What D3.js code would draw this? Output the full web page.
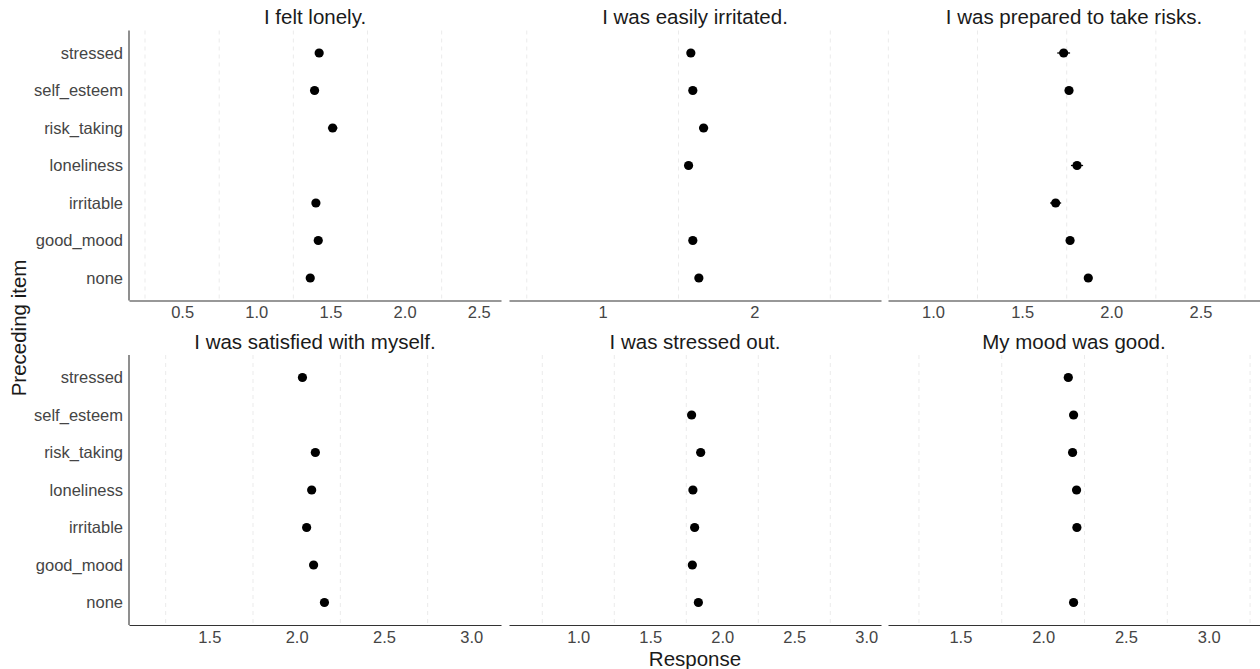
<!DOCTYPE html>
<html>
<head>
<meta charset="utf-8">
<script src="https://cdn.jsdelivr.net/npm/d3@7"></script>
<style>
  html, body { margin: 0; padding: 0; background: #fff; }
  svg text { font-family: "Liberation Sans", Arial, Helvetica, sans-serif; }
</style>
</head>
<body>
<svg id="chart" width="1260" height="669"></svg>
<script>
// Preceding items (y categories), top to bottom
const items = ["stressed", "self_esteem", "risk_taking", "loneliness", "irritable", "good_mood", "none"];

// Facet titles (target item), row-major
const titles = [
  "I felt lonely.", "I was easily irritated.", "I was prepared to take risks.",
  "I was satisfied with myself.", "I was stressed out.", "My mood was good."
];

// Mean response per preceding item (null = item not preceded by itself)
const lonelyMean     = [1.424, 1.393, 1.515, null, 1.402, 1.418, 1.364];
const irritatedMean  = [1.581, 1.594, 1.665, 1.566, null, 1.594, 1.634];
const risksMean      = [1.733, 1.763, null, 1.808, 1.688, 1.769, 1.871];
const satisfiedMean  = [2.033, null, 2.107, 2.086, 2.057, 2.097, 2.159];
const stressedMean   = [null, 1.787, 1.850, 1.796, 1.808, 1.792, 1.834];
const moodMean       = [2.152, 2.184, 2.178, 2.202, 2.204, null, 2.184];

// Standard errors for the horizontal error bars
const lonelySE     = [0.025, 0.025, 0.032, null, 0.025, 0.025, 0.025];
const irritatedSE  = [0.024, 0.024, 0.030, 0.024, null, 0.024, 0.024];
const risksSE      = [0.036, 0.022, null, 0.034, 0.031, 0.022, 0.022];
const satisfiedSE  = [0.020, null, 0.022, 0.020, 0.020, 0.020, 0.020];
const stressedSE   = [null, 0.025, 0.030, 0.025, 0.025, 0.025, 0.025];
const moodSE       = [0.020, 0.020, 0.020, 0.020, 0.020, null, 0.020];

// Free x ranges of each facet
const lonelyDomain    = [0.142, 2.65];
const irritatedDomain = [0.383, 2.834];
const risksDomain     = [0.748, 2.834];
const satisfiedDomain = [1.04, 3.17];
const stressedDomain  = [0.519, 3.102];
const moodDomain      = [1.063, 3.31];

// Major tick labels per facet
const lonelyTicks    = [0.5, 1.0, 1.5, 2.0, 2.5];
const irritatedTicks = [1, 2];
const risksTicks     = [1.0, 1.5, 2.0, 2.5];
const satisfiedTicks = [1.5, 2.0, 2.5, 3.0];
const stressedTicks  = [1.0, 1.5, 2.0, 2.5, 3.0];
const moodTicks      = [1.5, 2.0, 2.5, 3.0];

// Minor (dashed) grid lines per facet
const lonelyGrid    = [0.25, 0.75, 1.25, 1.75, 2.25];
const irritatedGrid = [0.5, 1.5, 2.5];
const risksGrid     = [0.75, 1.25, 1.75, 2.25, 2.75];
const satisfiedGrid = [1.25, 1.75, 2.25, 2.75];
const stressedGrid  = [0.75, 1.25, 1.75, 2.25, 2.75];
const moodGrid      = [1.25, 1.75, 2.25, 2.75, 3.25];

const facets = [
  { title: titles[0], mean: lonelyMean,    se: lonelySE,    domain: lonelyDomain,    ticks: lonelyTicks,    grid: lonelyGrid,    fmt: ".1f" },
  { title: titles[1], mean: irritatedMean, se: irritatedSE, domain: irritatedDomain, ticks: irritatedTicks, grid: irritatedGrid, fmt: "d" },
  { title: titles[2], mean: risksMean,     se: risksSE,     domain: risksDomain,     ticks: risksTicks,     grid: risksGrid,     fmt: ".1f" },
  { title: titles[3], mean: satisfiedMean, se: satisfiedSE, domain: satisfiedDomain, ticks: satisfiedTicks, grid: satisfiedGrid, fmt: ".1f" },
  { title: titles[4], mean: stressedMean,  se: stressedSE,  domain: stressedDomain,  ticks: stressedTicks,  grid: stressedGrid,  fmt: ".1f" },
  { title: titles[5], mean: moodMean,      se: moodSE,      domain: moodDomain,      ticks: moodTicks,      grid: moodGrid,      fmt: ".1f" }
];

// Layout
const svg = d3.select("#chart");
const colX = [129, 509, 888];
const panelW = 372;
const rowY = [[30.5, 300.5], [355, 625]];
const titleBase = [24, 349];
const tickColor = "#454545";

facets.forEach((f, i) => {
  const col = i % 3, row = Math.floor(i / 3);
  const x0 = colX[col], x1 = x0 + panelW;
  const [y0, y1] = rowY[row];

  const x = d3.scaleLinear().domain(f.domain).range([x0, x1]);
  const y = d3.scalePoint().domain(items).range([y0, y1]).padding(0.6);

  const g = svg.append("g");

  // dashed minor grid
  g.selectAll("line.grid").data(f.grid).join("line")
    .attr("class", "grid")
    .attr("x1", d => x(d)).attr("x2", d => x(d))
    .attr("y1", y0).attr("y2", y1)
    .attr("stroke", "#ebebeb").attr("stroke-width", 1)
    .attr("stroke-dasharray", "4,4");

  // x axis
  const xAxis = d3.axisBottom(x).tickValues(f.ticks).tickSize(0).tickPadding(6)
    .tickFormat(d3.format(f.fmt));
  const ax = g.append("g").attr("transform", `translate(0,${y1})`).call(xAxis);
  ax.select(".domain").attr("stroke", "#333").attr("stroke-width", 1.1);
  ax.selectAll("text").attr("font-size", "16.5px").attr("fill", tickColor)
    .attr("font-family", "Liberation Sans, Arial, sans-serif");

  // y axis on the left column only
  if (col === 0) {
    const yAxis = d3.axisLeft(y).tickSize(0).tickPadding(6);
    const ay = g.append("g").attr("transform", `translate(${x0},0)`).call(yAxis);
    ay.select(".domain").attr("stroke", "#333").attr("stroke-width", 1.1)
      .attr("d", `M0,${y0}V${y1}`);
    ay.selectAll("text").attr("font-size", "16.5px").attr("fill", tickColor)
      .attr("font-family", "Liberation Sans, Arial, sans-serif");
  }

  const pts = items.map((it, k) => ({ item: it, v: f.mean[k], se: f.se[k] }))
    .filter(d => d.v !== null);

  // error bars
  g.selectAll("line.err").data(pts).join("line")
    .attr("class", "err")
    .attr("x1", d => x(d.v - d.se)).attr("x2", d => x(d.v + d.se))
    .attr("y1", d => y(d.item)).attr("y2", d => y(d.item))
    .attr("stroke", "#000").attr("stroke-width", 1.3);

  // points
  g.selectAll("circle").data(pts).join("circle")
    .attr("cx", d => x(d.v)).attr("cy", d => y(d.item))
    .attr("r", 4.6).attr("fill", "#000");

  // facet title
  svg.append("text")
    .attr("x", (x0 + x1) / 2).attr("y", titleBase[row])
    .attr("text-anchor", "middle").attr("font-size", "20.5px").attr("fill", "#1a1a1a")
    .text(f.title);
});

// axis titles
svg.append("text")
  .attr("x", 695).attr("y", 666)
  .attr("text-anchor", "middle").attr("font-size", "20.5px").attr("fill", "#1a1a1a")
  .text("Response");

svg.append("text")
  .attr("transform", "translate(26,328) rotate(-90)")
  .attr("text-anchor", "middle").attr("font-size", "20.5px").attr("fill", "#1a1a1a")
  .text("Preceding item");
</script>
</body>
</html>
